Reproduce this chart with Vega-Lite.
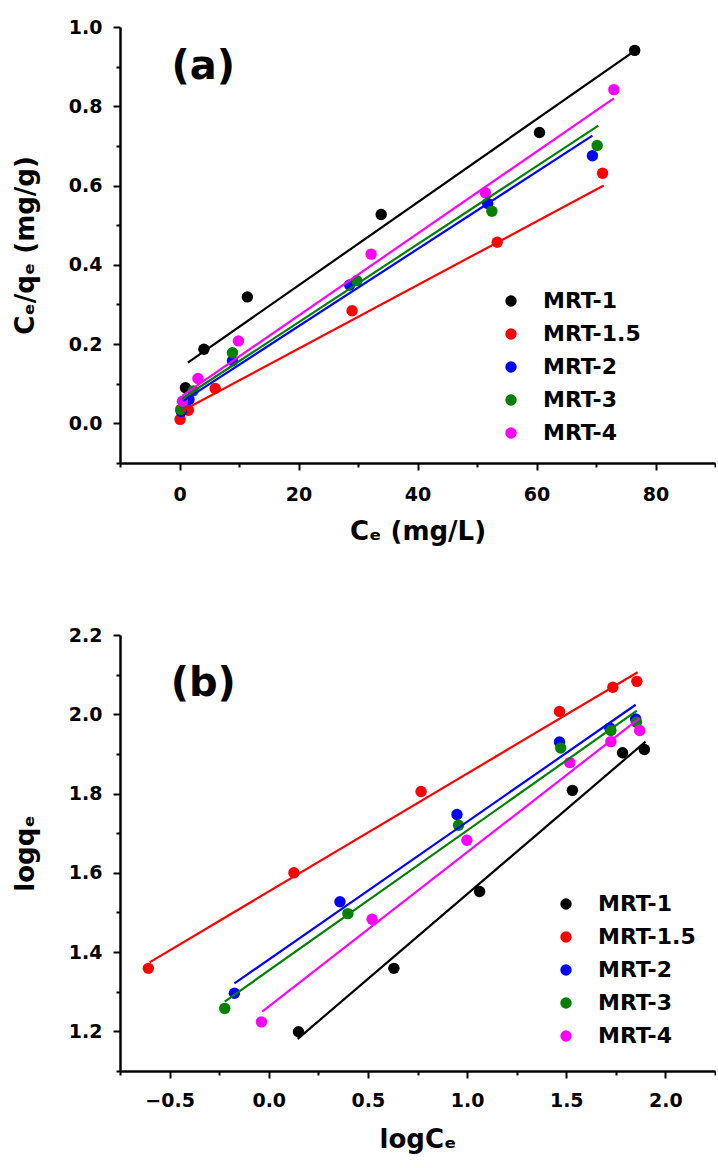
{
  "$schema": "https://vega.github.io/schema/vega-lite/v6.json",
  "padding": {"left": 12, "top": 18, "right": 0, "bottom": 5},
  "spacing": 172,
  "bounds": "flush",
  "config": {
    "view": {"stroke": null},
    "font": "DejaVu Sans",
    "axis": {
      "grid": false,
      "domainColor": "#000000",
      "domainWidth": 2.5,
      "tickColor": "#000000",
      "tickWidth": 2,
      "labelFont": "DejaVu Sans",
      "labelFontWeight": "bold",
      "labelFontSize": 19,
      "labelColor": "#000000",
      "labelFlush": false,
      "labelOverlap": false,
      "labelPadding": 6,
      "titleFont": "DejaVu Sans",
      "titleFontWeight": "bold",
      "titleFontSize": 26,
      "titleColor": "#000000"
    },
    "legend": {
      "title": null,
      "labelFont": "DejaVu Sans",
      "labelFontWeight": "bold",
      "labelFontSize": 22,
      "labelColor": "#000000",
      "symbolType": "circle",
      "symbolSize": 130,
      "symbolStrokeWidth": 0,
      "rowPadding": 11,
      "labelOffset": 21,
      "padding": 0
    }
  },
  "datasets": {
    "a_pts": [
      {"series": "MRT-1", "x": 1.0, "y": 0.09},
      {"series": "MRT-1", "x": 4.1, "y": 0.187},
      {"series": "MRT-1", "x": 11.4, "y": 0.319},
      {"series": "MRT-1", "x": 33.9, "y": 0.527},
      {"series": "MRT-1", "x": 60.5, "y": 0.734},
      {"series": "MRT-1", "x": 76.5, "y": 0.941},
      {"series": "MRT-1.5", "x": 0.1, "y": 0.01},
      {"series": "MRT-1.5", "x": 1.5, "y": 0.033},
      {"series": "MRT-1.5", "x": 6.0, "y": 0.088},
      {"series": "MRT-1.5", "x": 29.0, "y": 0.284},
      {"series": "MRT-1.5", "x": 53.4, "y": 0.457},
      {"series": "MRT-1.5", "x": 71.1, "y": 0.631},
      {"series": "MRT-2", "x": 0.3, "y": 0.03},
      {"series": "MRT-2", "x": 1.6, "y": 0.06},
      {"series": "MRT-2", "x": 8.9, "y": 0.158},
      {"series": "MRT-2", "x": 28.6, "y": 0.349},
      {"series": "MRT-2", "x": 51.8, "y": 0.555},
      {"series": "MRT-2", "x": 69.4, "y": 0.675},
      {"series": "MRT-3", "x": 0.2, "y": 0.035},
      {"series": "MRT-3", "x": 2.3, "y": 0.082},
      {"series": "MRT-3", "x": 8.9, "y": 0.178},
      {"series": "MRT-3", "x": 29.8, "y": 0.36},
      {"series": "MRT-3", "x": 52.5, "y": 0.535},
      {"series": "MRT-3", "x": 70.2, "y": 0.701},
      {"series": "MRT-4", "x": 0.5, "y": 0.056},
      {"series": "MRT-4", "x": 3.1, "y": 0.113},
      {"series": "MRT-4", "x": 9.9, "y": 0.208},
      {"series": "MRT-4", "x": 32.2, "y": 0.427},
      {"series": "MRT-4", "x": 51.4, "y": 0.582},
      {"series": "MRT-4", "x": 73.0, "y": 0.842}
    ],
    "a_fit": [
      {"series": "MRT-1", "x": 1.4, "y": 0.153},
      {"series": "MRT-1", "x": 76.5, "y": 0.94},
      {"series": "MRT-1.5", "x": 0.4, "y": 0.031},
      {"series": "MRT-1.5", "x": 71.3, "y": 0.6},
      {"series": "MRT-2", "x": 0.6, "y": 0.056},
      {"series": "MRT-2", "x": 69.4, "y": 0.726},
      {"series": "MRT-3", "x": 0.4, "y": 0.062},
      {"series": "MRT-3", "x": 70.4, "y": 0.751},
      {"series": "MRT-4", "x": 0.5, "y": 0.07},
      {"series": "MRT-4", "x": 73.0, "y": 0.82}
    ],
    "b_pts": [
      {"series": "MRT-1", "x": 0.15, "y": 1.199},
      {"series": "MRT-1", "x": 0.631, "y": 1.359},
      {"series": "MRT-1", "x": 1.063, "y": 1.553},
      {"series": "MRT-1", "x": 1.531, "y": 1.808},
      {"series": "MRT-1", "x": 1.784, "y": 1.903},
      {"series": "MRT-1", "x": 1.894, "y": 1.911},
      {"series": "MRT-1.5", "x": -0.607, "y": 1.359},
      {"series": "MRT-1.5", "x": 0.127, "y": 1.6},
      {"series": "MRT-1.5", "x": 0.768, "y": 1.805},
      {"series": "MRT-1.5", "x": 1.466, "y": 2.007},
      {"series": "MRT-1.5", "x": 1.735, "y": 2.068},
      {"series": "MRT-1.5", "x": 1.856, "y": 2.083},
      {"series": "MRT-2", "x": -0.173, "y": 1.296},
      {"series": "MRT-2", "x": 0.359, "y": 1.527},
      {"series": "MRT-2", "x": 0.949, "y": 1.747},
      {"series": "MRT-2", "x": 1.466, "y": 1.93},
      {"series": "MRT-2", "x": 1.72, "y": 1.965},
      {"series": "MRT-2", "x": 1.85, "y": 1.988},
      {"series": "MRT-3", "x": -0.222, "y": 1.258},
      {"series": "MRT-3", "x": 0.399, "y": 1.497},
      {"series": "MRT-3", "x": 0.957, "y": 1.72},
      {"series": "MRT-3", "x": 1.472, "y": 1.915},
      {"series": "MRT-3", "x": 1.725, "y": 1.959},
      {"series": "MRT-3", "x": 1.854, "y": 1.98},
      {"series": "MRT-4", "x": -0.037, "y": 1.224},
      {"series": "MRT-4", "x": 0.521, "y": 1.483},
      {"series": "MRT-4", "x": 0.999, "y": 1.682},
      {"series": "MRT-4", "x": 1.518, "y": 1.878},
      {"series": "MRT-4", "x": 1.725, "y": 1.931},
      {"series": "MRT-4", "x": 1.87, "y": 1.959}
    ],
    "b_fit": [
      {"series": "MRT-1", "x": 0.146, "y": 1.181},
      {"series": "MRT-1", "x": 1.9, "y": 1.931},
      {"series": "MRT-1.5", "x": -0.601, "y": 1.374},
      {"series": "MRT-1.5", "x": 1.86, "y": 2.106},
      {"series": "MRT-2", "x": -0.173, "y": 1.321},
      {"series": "MRT-2", "x": 1.85, "y": 2.024},
      {"series": "MRT-3", "x": -0.222, "y": 1.275},
      {"series": "MRT-3", "x": 1.856, "y": 2.009},
      {"series": "MRT-4", "x": -0.033, "y": 1.25},
      {"series": "MRT-4", "x": 1.87, "y": 1.99}
    ],
    "a_label": [{"x": 4, "y": 0.9, "label": "(a)"}],
    "b_label": [{"x": -0.33, "y": 2.077, "label": "(b)"}]
  },
  "resolve": {"scale": {"color": "independent", "stroke": "independent"}, "legend": {"color": "independent"}},
  "vconcat": [
    {
      "width": 595,
      "height": 436,
      "resolve": {"axis": {"y": "independent"}},
      "layer": [
        {
          "data": {"name": "a_pts"},
          "mark": {"type": "circle", "size": 130, "opacity": 1},
          "encoding": {
            "x": {"field": "x", "type": "quantitative",
              "scale": {"domain": [-10, 90], "nice": false, "zero": false},
              "axis": {
                "title": "Cₑ (mg/L)",
                "values": [-10, 0, 10, 20, 30, 40, 50, 60, 70, 80, 90],
                "format": "d",
                "labelExpr": "datum.value % 20 === 0 ? datum.label : ''",
                "tickSize": {"condition": {"test": "datum.value % 20 === 0", "value": 7}, "value": 4},
                "labelPadding": 15,
                "titlePadding": 14
              }},
            "y": {"field": "y", "type": "quantitative",
              "scale": {"domain": [-0.1, 1.0], "nice": false, "zero": false},
              "axis": {
                "title": "Cₑ/qₑ (mg/g)",
                "values": [0, 0.2, 0.4, 0.6, 0.8, 1.0],
                "format": ".1f",
                "tickSize": 7,
                "labelPadding": 11,
                "titlePadding": 30
              }},
            "color": {"field": "series", "type": "nominal",
              "scale": {"domain": ["MRT-1", "MRT-1.5", "MRT-2", "MRT-3", "MRT-4"], "range": ["#000000", "#ff0000", "#0000ff", "#008000", "#ff00ff"]},
              "legend": {"orient": "none", "legendX": 380, "legendY": 263}}
          }
        },
        {
          "data": {"name": "a_fit"},
          "mark": {"type": "line", "strokeWidth": 2.2},
          "encoding": {
            "x": {"field": "x", "type": "quantitative"},
            "y": {"field": "y", "type": "quantitative",
              "axis": {"orient": "left", "values": [-0.1, 0.1, 0.3, 0.5, 0.7, 0.9], "labels": false, "domain": false, "title": null, "tickSize": 4}},
            "stroke": {"field": "series", "type": "nominal",
              "scale": {"domain": ["MRT-1", "MRT-1.5", "MRT-2", "MRT-3", "MRT-4"], "range": ["#000000", "#ff0000", "#0000ff", "#008000", "#ff00ff"]},
              "legend": null},
            "detail": {"field": "series"}
          }
        },
        {
          "data": {"name": "a_label"},
          "mark": {"type": "text", "fontSize": 40, "fontWeight": "bold", "font": "DejaVu Sans", "color": "#000000"},
          "encoding": {
            "x": {"field": "x", "type": "quantitative"},
            "y": {"field": "y", "type": "quantitative", "axis": null},
            "text": {"field": "label"}
          }
        }
      ]
    },
    {
      "width": 595,
      "height": 436,
      "resolve": {"axis": {"y": "independent"}},
      "layer": [
        {
          "data": {"name": "b_pts"},
          "mark": {"type": "circle", "size": 130, "opacity": 1},
          "encoding": {
            "x": {"field": "x", "type": "quantitative",
              "scale": {"domain": [-0.75, 2.25], "nice": false, "zero": false},
              "axis": {
                "title": "logCₑ",
                "values": [-0.75, -0.5, -0.25, 0, 0.25, 0.5, 0.75, 1.0, 1.25, 1.5, 1.75, 2.0, 2.25],
                "format": ".1f",
                "labelExpr": "round(datum.value * 100) % 50 === 0 ? datum.label : ''",
                "tickSize": {"condition": {"test": "round(datum.value * 100) % 50 === 0", "value": 7}, "value": 4},
                "labelPadding": 13,
                "titlePadding": 16
              }},
            "y": {"field": "y", "type": "quantitative",
              "scale": {"domain": [1.1, 2.2], "nice": false, "zero": false},
              "axis": {
                "title": "logqₑ",
                "values": [1.2, 1.4, 1.6, 1.8, 2.0, 2.2],
                "format": ".1f",
                "tickSize": 7,
                "labelPadding": 11,
                "titlePadding": 30
              }},
            "color": {"field": "series", "type": "nominal",
              "scale": {"domain": ["MRT-1", "MRT-1.5", "MRT-2", "MRT-3", "MRT-4"], "range": ["#000000", "#ff0000", "#0000ff", "#008000", "#ff00ff"]},
              "legend": {"orient": "none", "legendX": 435, "legendY": 258}}
          }
        },
        {
          "data": {"name": "b_fit"},
          "mark": {"type": "line", "strokeWidth": 2.2},
          "encoding": {
            "x": {"field": "x", "type": "quantitative"},
            "y": {"field": "y", "type": "quantitative",
              "axis": {"orient": "left", "values": [1.1, 1.3, 1.5, 1.7, 1.9, 2.1], "labels": false, "domain": false, "title": null, "tickSize": 4}},
            "stroke": {"field": "series", "type": "nominal",
              "scale": {"domain": ["MRT-1", "MRT-1.5", "MRT-2", "MRT-3", "MRT-4"], "range": ["#000000", "#ff0000", "#0000ff", "#008000", "#ff00ff"]},
              "legend": null},
            "detail": {"field": "series"}
          }
        },
        {
          "data": {"name": "b_label"},
          "mark": {"type": "text", "fontSize": 40, "fontWeight": "bold", "font": "DejaVu Sans", "color": "#000000"},
          "encoding": {
            "x": {"field": "x", "type": "quantitative"},
            "y": {"field": "y", "type": "quantitative", "axis": null},
            "text": {"field": "label"}
          }
        }
      ]
    }
  ]
}
